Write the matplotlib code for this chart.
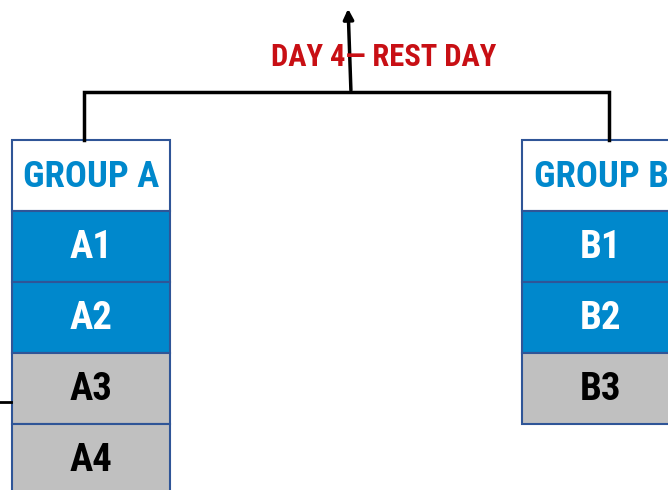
"""Group-stage bracket card: two groups joined by a rest-day bracket."""

import matplotlib.pyplot as plt
from matplotlib.patches import Rectangle

# Data
groups = ["GROUP A", "GROUP B"]
group_teams = [["A1", "A2", "A3", "A4"], ["B1", "B2", "B3"]]
advancing = 2  # top rows highlighted in blue
bracket_label = "DAY 4\u2014 REST DAY"

BLUE = "#0088cc"
GREY = "#c0c0c0"
EDGE = "#2f5597"
RED = "#c80f14"
FONT = ["DejaVu Sans Condensed", "Liberation Sans Narrow", "Roboto Condensed", "Roboto"]


def draw_group(ax, x0, y0, width, row_h, title, teams):
    """Draw one group column: header cell followed by a cell per team."""
    ax.add_patch(Rectangle((x0, y0), width, row_h, facecolor="white",
                           edgecolor=EDGE, linewidth=1.5))
    ax.text(x0 + width / 2, y0 + row_h / 2 + 1, title, color=BLUE, family=FONT,
            fontstretch="condensed", fontweight="bold", fontsize=26.5,
            ha="center", va="center")
    for i, team in enumerate(teams):
        y = y0 + row_h * (i + 1)
        fill = BLUE if i < advancing else GREY
        ax.add_patch(Rectangle((x0, y), width, row_h, facecolor=fill,
                               edgecolor=EDGE, linewidth=1.5))
        ax.text(x0 + width / 2, y + row_h / 2 + 1, team,
                color="white" if i < advancing else "black", family=FONT,
                fontstretch="condensed", fontweight="bold", fontsize=28,
                ha="center", va="center")


def main() -> None:
    fig = plt.figure(figsize=(6.68, 4.90), dpi=100)
    ax = fig.add_axes([0, 0, 1, 1])
    ax.set_xlim(0, 668)
    ax.set_ylim(490, 0)
    ax.axis("off")

    row_h = 71
    width = 158
    starts = [12, 522]
    for x0, title, teams in zip(starts, groups, group_teams):
        draw_group(ax, x0, 140, width, row_h, title, teams)

    # Bracket joining the two groups
    ax.plot([84, 84, 609, 609], [140, 92, 92, 140], color="black",
            linewidth=2.5, solid_joinstyle="miter")
    ax.annotate("", xy=(348, 6), xytext=(351, 93),
                arrowprops=dict(arrowstyle="-|>,head_length=0.6,head_width=0.3",
                                color="black", lw=2.5))
    ax.text(384, 57, bracket_label, color=RED, family=FONT,
            fontstretch="condensed", fontweight="bold", fontsize=22,
            ha="center", va="center")

    # Stub line coming in from the left at the third row
    ax.plot([0, 11], [402, 402], color="black", linewidth=2)

    fig.savefig("out.png", dpi=100)


if __name__ == "__main__":
    main()
